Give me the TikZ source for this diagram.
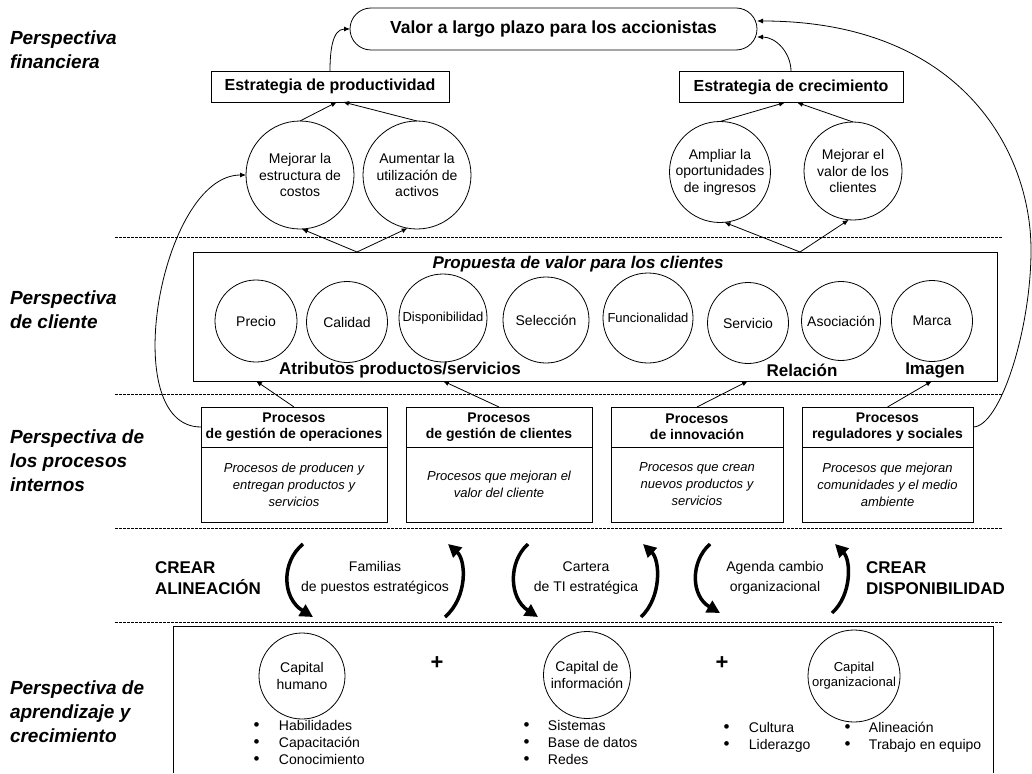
\documentclass[tikz,border=0pt]{standalone}
\usepackage{fontspec}
\setmainfont{Liberation Sans}
\usetikzlibrary{arrows.meta,calc}
\newcommand\setfs[2]{\fontsize{#1}{#2}\selectfont}
\newcommand\bul{{\setfs{17}{17}\textbullet}}
\begin{document}
\begin{tikzpicture}[x=1pt,y=-1pt,
  line width=0.8pt,
  every node/.style={inner sep=0pt, outer sep=0pt},
  thin arrow/.style={-{Latex[length=6pt,width=5pt]}},
  bold arc/.style={line width=3.5pt, -{Triangle[length=13pt,width=13pt]}},
  sep line/.style={line width=1pt, dash pattern=on 2.5pt off 1.5pt},
  bubble/.style={draw, circle, minimum size=#1, align=center},
  strat/.style={draw, rectangle, minimum height=31pt, font=\bfseries\setfs{16}{19}},
  persp/.style={anchor=west, align=left, font=\bfseries\itshape\setfs{19}{24}},
  phead/.style={draw, rectangle, minimum height=40pt, anchor=north west, align=center, font=\bfseries\setfs{14}{16}},
  pbody/.style={draw, rectangle, minimum height=75pt, anchor=north west, align=center, font=\itshape\setfs{13}{17}},
  bodytext/.style={align=center, font=\setfs{14}{16.5}},
  attrtext/.style={font=\setfs{14}{16}},
  bigbold/.style={font=\bfseries\setfs{17}{21}},
  listtext/.style={anchor=north west, font=\setfs{14}{17}},
]
\useasboundingbox (0,0) rectangle (1032,773);
\fill[white] (0,0) rectangle (1032,773);

% ---------- section separators ----------
\draw[sep line] (115,237) -- (1003,237);
\draw[sep line] (115,394) -- (1003,394);
\draw[sep line] (115,528) -- (1003,528);
\draw[sep line] (115,622) -- (1003,622);

% ---------- perspective labels ----------
\node[persp] (lfin) at (10,50) {Perspectiva\\financiera};
\node[persp] (lcli) at (10,309.5) {Perspectiva\\de cliente};
\node[persp] (lpro) at (10,461) {Perspectiva de\\los procesos\\internos};
\node[persp] (lapr) at (10,712) {Perspectiva de\\aprendizaje y\\crecimiento};

% ---------- financial perspective ----------
\node[draw, rounded corners=21pt, minimum width=407pt, minimum height=42pt,
      font=\bfseries\setfs{17.5}{20}] (valor) at (553.5,29) {Valor a largo plazo para los accionistas};
\node[strat, minimum width=238pt] (prod) at (330,86.5) {Estrategia de productividad};
\node[strat, minimum width=224pt] (crec) at (791,87) {Estrategia de crecimiento};

\node[bubble=108pt, bodytext] (f1) at (300,175) {Mejorar la\\estructura de\\costos};
\node[bubble=108pt, bodytext] (f2) at (417,175) {Aumentar la\\utilización de\\activos};
\node[bubble=101pt, bodytext] (g1) at (720,172) {Ampliar la\\oportunidades\\de ingresos};
\node[bubble=98pt, bodytext] (g2) at (853,171) {Mejorar el\\valor de los\\clientes};

\draw[thin arrow] (f1.north) -- ([xshift=7pt]prod.south);
\draw[thin arrow] (f2.north) -- ([xshift=13pt]prod.south);
\draw[thin arrow] (g1.north) -- ([xshift=-6pt]crec.south);
\draw[thin arrow] (g2.north) -- ([xshift=6pt]crec.south);
\draw[thin arrow] (prod.north) to[out=90, in=180] (valor.west);
\draw[thin arrow] (crec.north) to[out=90, in=0] ([yshift=-8pt]valor.east);

% ---------- customer perspective ----------
\node[draw, minimum width=804pt, minimum height=129pt] (cust) at (595,316.5) {};
\node[font=\bfseries\itshape\setfs{17}{20}] (prop) at (578,264) {Propuesta de valor para los clientes};

\node[bubble=82pt, attrtext] (pre) at (256,321) {Precio};
\node[bubble=81pt, attrtext] (cal) at (347,322) {Calidad};
\node[bubble=88pt, font=\setfs{13}{15}] (disp) at (443,318) {Disponibilidad};
\node[bubble=86pt, attrtext] (sel) at (546,320) {Selección};
\node[bubble=90pt, font=\setfs{13}{15}] (fun) at (648,318) {Funcionalidad};
\node[bubble=81pt, attrtext] (serv) at (748,323) {Servicio};
\node[bubble=79pt, attrtext] (aso) at (841,321) {Asociación};
\node[bubble=81pt, attrtext] (marca) at (932,321) {Marca};

\node[bigbold] (atr) at (400,370) {Atributos productos/servicios};
\node[bigbold] (rel) at (802,370) {Relación};
\node[bigbold] (img) at (935,370) {Imagen};

\coordinate (v1) at (357,252);
\coordinate (v2) at (800,252);
\draw[thin arrow] (v1) -- (f1.-88);
\draw[thin arrow] (v1) -- (f2.-100);
\draw[thin arrow] (v2) -- (g1.-85);
\draw[thin arrow] (v2) -- (g2.-95);

% ---------- internal process perspective ----------
\node[phead, minimum width=186pt] (p1h) at (201,407) {Procesos\\de gestión de operaciones};
\node[pbody, minimum width=186pt] (p1b) at (p1h.south west) {Procesos de producen y\\entregan productos y\\servicios};
\node[phead, minimum width=186pt] (p2h) at (406,407) {Procesos\\de gestión de clientes};
\node[pbody, minimum width=186pt] (p2b) at (p2h.south west) {Procesos que mejoran el\\valor del cliente};
\node[phead, minimum width=172pt] (p3h) at (611,407) {Procesos\\de innovación};
\node[pbody, minimum width=172pt] (p3b) at (p3h.south west) {Procesos que crean\\nuevos productos y\\servicios};
\node[phead, minimum width=171pt] (p4h) at (802,407) {Procesos\\reguladores y sociales};
\node[pbody, minimum width=171pt] (p4b) at (p4h.south west) {Procesos que mejoran\\comunidades y el medio\\ambiente};

\draw[thin arrow] (p1h.north) -- (cust.south -| pre);
\draw[thin arrow] (p2h.north) -- (cust.south -| disp);
\draw[thin arrow] (p3h.north) -- (cust.south -| serv);
\draw[thin arrow] (p4h.north) -- (cust.south -| marca);

% feedback loops to the financial perspective
\draw[thin arrow] (p1h.west) to[out=180, in=180, looseness=0.85] (f1.west);
\draw[thin arrow] (p4h.east) .. controls (1000,427) and (1031,330) .. (1031,250)
  .. controls (1031,150) and (960,21) .. ([yshift=8pt]valor.east);

% ---------- enablers band ----------
\node[bigbold, anchor=west, align=left] (cal1) at (155,578) {CREAR\\ALINEACIÓN};
\node[bigbold, anchor=west, align=left] (cal2) at (866,578) {CREAR\\DISPONIBILIDAD};
\node[font=\setfs{14}{20}, align=center] (m1) at (375,578) {Familias\\de puestos estratégicos};
\node[font=\setfs{14}{20}, align=center] (m2) at (586,578) {Cartera\\de TI estratégica};
\node[font=\setfs{14}{20}, align=center] (m3) at (775,578) {Agenda cambio\\organizacional};

\draw[bold arc] (303,544) .. controls (281,562) and (282,598) .. (313,617);
\draw[bold arc] (445,617) .. controls (468,597) and (466,560) .. (448,544);
\draw[bold arc] (528,544) .. controls (508,562) and (509,598) .. (538,617);
\draw[bold arc] (641,617) .. controls (662,597) and (660,560) .. (643,544);
\draw[bold arc] (710,544) .. controls (690,562) and (691,596) .. (720,613);
\draw[bold arc] (832,613) .. controls (852,595) and (851,560) .. (835,544);

% ---------- learning and growth perspective ----------
\draw (173,773) -- (173,626) -- (993,626) -- (993,773);
\node[bubble=86pt, bodytext] (ch) at (302,676) {Capital\\humano};
\node[bubble=87pt, bodytext] (ci) at (587,675) {Capital de\\información};
\node[bubble=92pt, align=center, font=\setfs{13}{15}] (co) at (854,676) {Capital\\organizacional};
\node[font=\bfseries\setfs{22}{22}] (plus1) at (437,663) {+};
\node[font=\bfseries\setfs{22}{22}] (plus2) at (722,663) {+};

\node[listtext] (lh) at (253.5,719) {\begin{tabular}{@{}l@{\hspace{19.5pt}}l@{}}\bul & Habilidades\\ \bul & Capacitación\\ \bul & Conocimiento\end{tabular}};
\node[listtext] (li) at (523.5,719) {\begin{tabular}{@{}l@{\hspace{18.5pt}}l@{}}\bul & Sistemas\\ \bul & Base de datos\\ \bul & Redes\end{tabular}};
\node[listtext] (lo1) at (723.5,721) {\begin{tabular}{@{}l@{\hspace{19.5pt}}l@{}}\bul & Cultura\\ \bul & Liderazgo\end{tabular}};
\node[listtext] (lo2) at (844.5,721) {\begin{tabular}{@{}l@{\hspace{18.5pt}}l@{}}\bul & Alineación\\ \bul & Trabajo en equipo\end{tabular}};
\end{tikzpicture}
\end{document}
